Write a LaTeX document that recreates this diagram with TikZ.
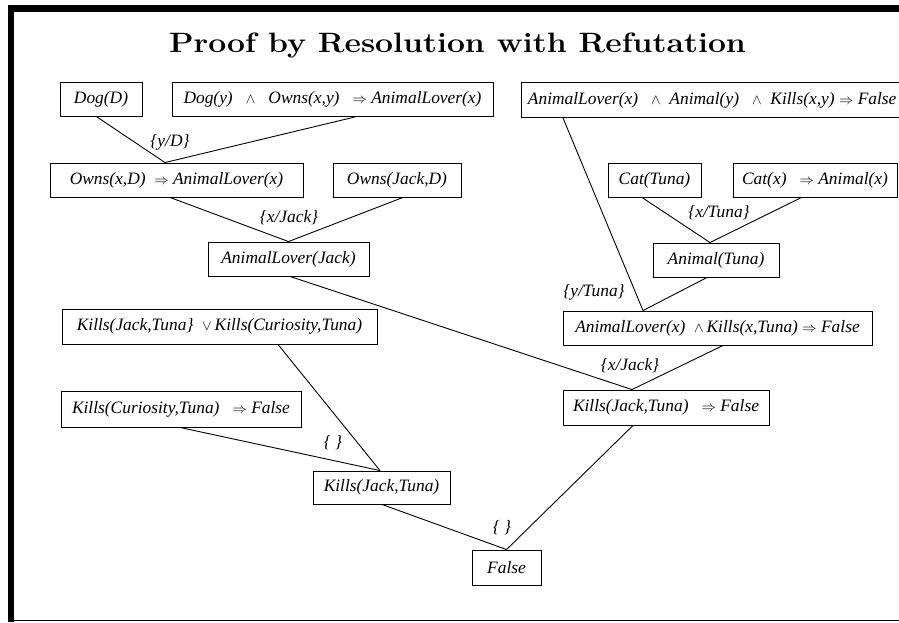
\documentclass[tikz,border=0pt]{standalone}
\usepackage{graphicx}
\usepackage{fontspec}
\newfontfamily\tnr{Liberation Serif}
\newcommand{\symAnd}{{\fontsize{15}{15}\selectfont$\wedge$}}
\newcommand{\symOr}{{\fontsize{15}{15}\selectfont$\vee$}}
\newcommand{\symImp}{{\fontsize{14}{14}\selectfont$\Rightarrow$}}
\tikzset{
  box/.style={draw, line width=0.9pt, inner sep=0pt, minimum height=34pt,
    font=\tnr\itshape\fontsize{17.4}{20}\selectfont},
  sublabel/.style={inner sep=0pt, font=\tnr\itshape\fontsize{17.4}{20}\selectfont},
  link/.style={line width=0.9pt}
}
\begin{document}
\begin{tikzpicture}[x=1pt,y=-1pt]
\useasboundingbox (0,0) rectangle (899,622);
\clip (0,0) rectangle (899,622);
% frame
\fill[black] (8,5) rectangle (899,12);
\fill[black] (8,5) rectangle (14,621.5);
\draw[line width=1.3pt] (8,620.8) -- (899,620.8);
% title
\node[anchor=base, inner sep=0pt, font=\bfseries\fontsize{28}{32}\selectfont] (title) at (457.5,52) {\scalebox{1.139}[1]{Proof by Resolution with Refutation}};
% boxes
\node[box, minimum width=82pt] (dogD) at (101,99.5) {Dog(D)};
\node[box, minimum width=321pt] (dogy) at (332.5,99.5) {Dog(y)\enspace\ \symAnd\enspace\ Owns(x,y)\enspace\ \symImp\ AnimalLover(x)};
\node[box, anchor=west, inner xsep=6.5pt, minimum height=35pt] (big) at (521,100) {AnimalLover(x)\enspace\ \symAnd\ \ Animal(y)\enspace\ \symAnd\ \ Kills(x,y)\ \symImp\ False};
\node[box, minimum width=253pt] (owns) at (176.5,180) {Owns(x,D)\enspace \symImp\ AnimalLover(x)};
\node[box, minimum width=128pt] (ownsJ) at (397,180) {Owns(Jack,D)};
\node[box, minimum width=161pt] (alJ) at (288.5,259) {AnimalLover(Jack)};
\node[box, minimum width=93pt] (cat) at (654.5,180) {Cat(Tuna)};
\node[box, minimum width=164pt] (catx) at (815,180) {Cat(x)\enspace\ \symImp\ Animal(x)};
\node[box, minimum width=126pt] (animal) at (716,260) {Animal(Tuna)};
\node[box, minimum width=309pt] (alk) at (717.5,328) {AnimalLover(x)\enspace \symAnd\,Kills(x,Tuna) \symImp\ False};
\node[box, minimum width=206pt, minimum height=35pt] (kjtf) at (666,407.5) {Kills(Jack,Tuna)\enspace\ \symImp\ False};
\node[box, minimum width=69pt, minimum height=35pt] (false) at (506.5,567.5) {False};
\node[box, minimum width=315pt, minimum height=35pt] (kor) at (219.5,326.5) {Kills(Jack,Tuna\}\enspace \symOr\,Kills(Curiosity,Tuna)};
\node[box, minimum width=240pt, minimum height=36pt] (kcf) at (181,409) {Kills(Curiosity,Tuna)\enspace\ \symImp\ False};
\node[box, minimum width=137pt, minimum height=33pt] (kjt) at (381.5,487.5) {Kills(Jack,Tuna)};
% connectors
\draw[link] ([xshift=-4pt]dogD.south) -- ([xshift=-11.5pt]owns.north);
\draw[link] ([xshift=22.5pt]dogy.south) -- ([xshift=-11.5pt]owns.north);
\draw[link] ([xshift=-6.5pt]owns.south) -- (alJ.north);
\draw[link] ([xshift=6pt]ownsJ.south) -- (alJ.north);
\draw[link] ([xshift=1.5pt]alJ.south) -- ([xshift=-34pt]kjtf.north);
\draw[link] ([xshift=5.5pt]alk.south) -- ([xshift=-34pt]kjtf.north);
\draw[link] ([xshift=42pt]big.south west) -- ([xshift=-74.5pt]alk.north);
\draw[link] ([xshift=-9pt]animal.south) -- ([xshift=-74.5pt]alk.north);
\draw[link] ([xshift=-12.5pt]cat.south) -- ([xshift=-6pt]animal.north);
\draw[link] ([xshift=-13.5pt]catx.south) -- ([xshift=-6pt]animal.north);
\draw[link] ([xshift=58.5pt]kor.south) -- ([xshift=-1.5pt]kjt.north);
\draw[link] ([xshift=-1pt]kcf.south) -- ([xshift=-1.5pt]kjt.north);
\draw[link] ([xshift=0.5pt]kjt.south) -- (false.north);
\draw[link] ([xshift=-33pt]kjtf.south) -- (false.north);
% substitution labels
\node[sublabel] (s1) at (170,142) {\{y/D\}};
\node[sublabel] (s2) at (289,218) {\{x/Jack\}};
\node[sublabel] (s3) at (719,213) {\{x/Tuna\}};
\node[sublabel] (s4) at (594,292) {\{y/Tuna\}};
\node[sublabel] (s5) at (630,366) {\{x/Jack\}};
\node[sublabel] (s6) at (333,443) {\{ \}};
\node[sublabel] (s7) at (502,528) {\{ \}};
\end{tikzpicture}
\end{document}
